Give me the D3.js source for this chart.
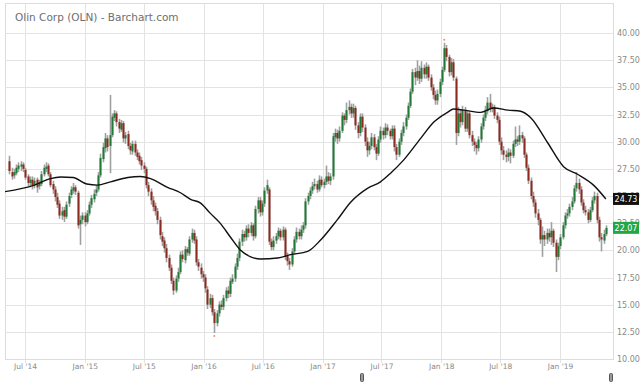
<!DOCTYPE html>
<html>
<head>
<meta charset="utf-8">
<script src="https://cdn.jsdelivr.net/npm/d3@7"></script>
<style>
  html, body { margin: 0; padding: 0; background: #fff; }
  svg { display: block; font-family: "DejaVu Sans", sans-serif; }
</style>
</head>
<body>
<div id="chart"></div>
<script>
'use strict';

/* Weekly OLN candles, first week starting 12 May 2014 */
const weekStart = '2014-05-12';

const opens = [
  28.2, 27.2, 26.9, 27.1, 27.5, 27.7, 27.9, 27.4, 26.8, 26.2,
  26.5, 26.0, 26.5, 25.9, 26.1, 27.0, 27.5, 27.8, 27.0, 26.1,
  25.6, 24.9, 24.3, 23.2, 23.7, 23.1, 24.3, 25.1, 25.5, 25.8,
  25.3, 22.4, 22.8, 23.2, 22.6, 23.4, 24.2, 24.7, 25.3, 25.6,
  26.9, 28.4, 29.4, 30.3, 29.6, 30.6, 32.2, 32.6, 31.8, 31.1,
  31.7, 30.3, 30.7, 29.6, 29.1, 29.8, 29.0, 28.7, 28.3, 27.8,
  27.5, 26.0, 25.4, 24.6, 24.1, 23.6, 22.8, 21.3, 20.9, 20.2,
  19.3, 18.4, 17.2, 16.3, 17.4, 18.0, 19.6, 19.1, 20.1, 19.7,
  21.0, 21.6, 21.0, 18.9, 18.4, 17.8, 17.5, 16.4, 15.0, 15.6,
  14.3, 13.3, 14.2, 15.0, 14.8, 15.6, 16.3, 16.0, 17.1, 17.4,
  18.5, 19.3, 20.8, 21.5, 21.2, 22.0, 21.6, 22.3, 21.3, 23.8,
  24.6, 23.5, 24.3, 25.5, 25.6, 20.8, 20.3, 20.9, 21.3, 21.8,
  21.2, 21.9, 19.5, 19.0, 18.7, 19.9, 21.0, 21.7, 21.3, 21.9,
  22.3, 24.5, 25.0, 25.5, 25.9, 26.1, 25.6, 26.5, 26.0, 26.3,
  26.8, 26.4, 26.8, 30.4, 30.8, 30.3, 31.0, 32.4, 32.0, 32.9,
  33.2, 32.6, 33.1, 31.5, 30.8, 32.3, 31.3, 30.0, 29.2, 29.6,
  30.4, 29.5, 28.9, 30.2, 31.0, 30.6, 31.3, 31.0, 30.5, 31.2,
  29.5, 28.8, 30.0, 30.8, 31.4, 32.2, 33.3, 34.6, 36.4, 35.9,
  36.5, 35.8, 36.8, 36.2, 36.9, 35.9, 35.0, 34.3, 33.8, 34.4,
  35.5, 36.6, 38.6, 37.8, 36.4, 37.3, 35.8, 30.8, 32.6, 31.8,
  32.9, 31.2, 32.6, 30.6, 30.0, 29.7, 29.4, 30.2, 31.4, 32.2,
  32.8, 33.6, 33.0, 33.2, 32.4, 32.0, 30.0, 29.2, 28.8, 28.6,
  29.0, 28.7, 29.8, 30.2, 30.0, 30.6, 30.3, 28.8, 27.6, 26.4,
  25.0, 24.4, 23.4, 22.8, 21.0, 21.4, 21.0, 21.6, 21.2, 21.8,
  20.7, 19.4, 20.4, 21.2, 22.3, 23.2, 23.4, 24.0, 24.5, 25.7,
  26.2, 25.6, 24.4, 23.7, 23.5, 22.8, 23.7, 24.6, 25.0, 22.8,
  21.2, 20.9, 21.5
];
const highs = [
  28.7, 27.6, 27.5, 27.9, 28.1, 28.2, 28.1, 27.6, 27.0, 26.8,
  26.8, 26.7, 26.7, 26.5, 27.3, 27.9, 28.1, 28.0, 27.2, 26.4,
  25.9, 25.3, 24.6, 24.0, 24.0, 24.5, 25.3, 25.9, 26.2, 26.0,
  25.5, 23.2, 23.5, 23.5, 23.7, 24.5, 25.1, 25.6, 26.0, 27.2,
  28.9, 29.9, 30.8, 30.6, 34.3, 32.6, 32.9, 32.8, 32.1, 32.0,
  31.9, 30.9, 31.0, 29.9, 30.1, 30.1, 29.3, 29.0, 28.6, 28.1,
  27.7, 26.3, 25.7, 25.0, 24.4, 23.9, 23.1, 21.7, 21.2, 20.6,
  19.6, 18.7, 17.5, 17.7, 18.4, 19.9, 20.0, 20.4, 20.3, 21.3,
  22.0, 21.9, 21.3, 19.2, 18.8, 18.1, 17.8, 16.7, 16.0, 15.9,
  14.6, 14.5, 15.3, 15.4, 15.9, 16.6, 16.7, 17.5, 17.8, 18.8,
  19.7, 21.1, 21.9, 21.8, 22.3, 22.4, 22.6, 22.5, 24.1, 24.9,
  24.9, 24.6, 25.8, 26.5, 25.8, 21.1, 21.3, 21.6, 22.1, 22.0,
  22.2, 22.1, 19.8, 19.3, 20.2, 21.3, 22.1, 22.0, 22.3, 22.6,
  24.8, 25.3, 25.8, 26.3, 26.6, 26.4, 26.9, 26.8, 26.6, 27.8,
  27.2, 27.1, 30.8, 31.2, 31.1, 31.4, 32.7, 32.6, 33.6, 33.8,
  33.5, 33.5, 33.3, 31.8, 32.6, 32.6, 31.6, 30.4, 30.0, 30.8,
  30.7, 29.8, 30.5, 31.4, 31.3, 31.7, 31.6, 31.2, 31.5, 31.5,
  29.8, 30.3, 31.1, 31.8, 32.5, 33.6, 34.9, 36.7, 36.8, 37.5,
  37.0, 37.4, 37.1, 37.3, 37.1, 36.2, 35.3, 34.7, 34.8, 35.8,
  36.9, 39.1, 38.9, 38.0, 37.7, 37.6, 36.0, 33.2, 33.0, 33.3,
  33.2, 32.9, 32.8, 31.0, 30.3, 30.0, 30.5, 31.7, 32.5, 33.3,
  34.1, 34.4, 33.5, 33.4, 32.7, 32.3, 30.4, 29.6, 29.2, 29.4,
  29.3, 30.1, 31.4, 30.5, 31.5, 30.9, 30.5, 29.0, 27.9, 26.7,
  25.4, 24.7, 23.8, 23.0, 22.2, 21.8, 22.0, 22.0, 22.6, 22.0,
  21.0, 20.7, 21.5, 22.6, 23.5, 23.8, 24.3, 24.9, 26.0, 27.2,
  26.6, 25.9, 24.7, 24.1, 23.8, 24.0, 24.9, 25.4, 25.3, 23.1,
  21.6, 21.9, 22.3
];
const lows = [
  27.0, 26.5, 26.6, 26.9, 27.2, 27.3, 27.2, 26.5, 25.9, 25.9,
  25.6, 25.7, 25.3, 25.6, 25.9, 26.8, 27.2, 26.8, 25.8, 25.2,
  24.5, 23.9, 22.9, 22.8, 22.6, 22.9, 24.0, 24.8, 25.2, 25.1,
  22.0, 20.5, 22.4, 22.2, 22.4, 23.2, 23.9, 24.4, 25.0, 25.4,
  26.7, 28.1, 29.0, 29.1, 27.1, 30.4, 31.9, 31.4, 30.8, 30.9,
  29.9, 29.8, 29.3, 28.8, 28.8, 28.7, 28.3, 27.9, 27.4, 27.1,
  25.7, 25.0, 24.2, 23.6, 23.2, 22.4, 21.0, 20.4, 19.8, 18.9,
  18.1, 16.9, 15.9, 16.1, 17.1, 17.8, 18.9, 18.8, 19.5, 19.5,
  20.7, 20.6, 18.6, 18.1, 17.4, 17.1, 16.1, 14.6, 14.7, 14.0,
  12.4, 13.0, 13.9, 14.5, 14.5, 15.3, 15.6, 15.7, 16.9, 17.1,
  18.2, 19.0, 20.4, 20.8, 20.9, 21.2, 21.3, 20.9, 21.1, 23.4,
  23.1, 23.2, 24.0, 25.2, 20.5, 20.0, 20.0, 20.6, 21.0, 20.9,
  20.9, 19.1, 18.6, 18.2, 18.5, 19.6, 20.7, 21.0, 21.0, 21.6,
  22.0, 24.2, 24.7, 25.2, 25.6, 25.3, 25.4, 25.8, 25.7, 26.0,
  26.1, 26.0, 26.5, 30.0, 29.8, 30.0, 30.8, 31.5, 31.7, 32.5,
  32.2, 32.2, 31.1, 30.3, 30.5, 30.9, 29.6, 28.6, 28.8, 29.3,
  29.2, 28.3, 28.7, 29.9, 30.2, 30.3, 30.6, 30.2, 30.2, 29.1,
  28.3, 28.6, 29.7, 30.5, 31.1, 32.0, 33.1, 34.4, 35.2, 35.6,
  35.3, 35.5, 35.8, 35.8, 35.6, 34.7, 33.9, 33.4, 33.4, 34.1,
  35.2, 36.4, 37.4, 36.0, 36.1, 35.6, 29.7, 30.5, 31.3, 31.5,
  30.9, 30.9, 30.3, 29.6, 29.1, 28.8, 29.1, 29.9, 31.1, 31.9,
  32.5, 32.7, 32.7, 32.1, 31.7, 29.7, 28.8, 28.3, 28.1, 28.2,
  28.0, 28.5, 29.5, 29.6, 29.7, 29.9, 28.5, 27.3, 26.1, 24.7,
  24.0, 23.0, 22.3, 20.6, 19.4, 20.4, 20.6, 20.8, 20.5, 20.3,
  18.0, 19.1, 20.1, 21.0, 22.0, 22.9, 23.1, 23.7, 24.3, 25.4,
  25.2, 24.1, 23.4, 23.2, 22.5, 22.6, 23.5, 24.3, 22.5, 20.8,
  19.9, 20.6, 21.3
];
const closes = [
  27.3, 26.8, 27.2, 27.6, 27.8, 27.9, 27.5, 26.7, 26.2, 26.5,
  26.0, 26.4, 25.8, 26.2, 27.0, 27.6, 27.7, 27.0, 26.0, 25.6,
  24.9, 24.2, 23.2, 23.6, 23.1, 24.2, 25.0, 25.6, 25.8, 25.4,
  22.3, 22.8, 23.2, 22.6, 23.4, 24.2, 24.8, 25.2, 25.6, 26.9,
  28.5, 29.5, 30.3, 29.5, 30.6, 32.3, 32.6, 31.8, 31.2, 31.7,
  30.3, 30.6, 29.6, 29.2, 29.8, 29.0, 28.6, 28.2, 27.8, 27.5,
  26.0, 25.4, 24.6, 24.0, 23.6, 22.8, 21.4, 20.8, 20.2, 19.3,
  18.4, 17.2, 16.3, 17.4, 18.0, 19.6, 19.2, 20.1, 19.8, 21.0,
  21.6, 20.9, 18.9, 18.5, 17.8, 17.5, 16.5, 15.0, 15.6, 14.3,
  13.3, 14.2, 15.0, 14.8, 15.6, 16.3, 16.0, 17.2, 17.4, 18.5,
  19.3, 20.8, 21.5, 21.2, 22.0, 21.6, 22.3, 21.3, 23.8, 24.6,
  23.5, 24.3, 25.5, 26.0, 20.8, 20.3, 20.9, 21.3, 21.8, 21.2,
  21.9, 19.4, 19.0, 18.7, 19.9, 21.0, 21.7, 21.3, 21.9, 22.3,
  24.5, 25.0, 25.5, 25.9, 26.1, 25.6, 26.5, 26.0, 26.3, 26.8,
  26.4, 26.8, 30.5, 30.8, 30.3, 31.0, 32.4, 32.0, 32.9, 33.2,
  32.6, 33.1, 31.5, 30.8, 32.3, 31.3, 30.0, 29.2, 29.6, 30.4,
  29.5, 28.9, 30.2, 31.0, 30.6, 31.3, 31.0, 30.5, 31.2, 29.5,
  28.8, 30.0, 30.8, 31.4, 32.2, 33.3, 34.6, 36.4, 35.9, 36.5,
  35.8, 36.8, 36.2, 36.9, 35.9, 35.0, 34.3, 33.8, 34.4, 35.5,
  36.6, 38.6, 37.8, 36.4, 37.3, 35.9, 30.8, 32.6, 31.8, 32.9,
  31.2, 32.6, 30.6, 30.0, 29.7, 29.4, 30.2, 31.4, 32.2, 32.8,
  33.6, 33.0, 33.2, 32.4, 32.0, 30.0, 29.2, 28.8, 28.6, 29.0,
  28.7, 29.8, 30.2, 30.0, 30.6, 30.3, 28.8, 27.6, 26.4, 25.0,
  24.4, 23.4, 22.8, 21.0, 21.4, 21.0, 21.6, 21.2, 21.8, 20.7,
  19.4, 20.4, 21.2, 22.3, 23.2, 23.4, 24.0, 24.5, 25.7, 26.2,
  25.6, 24.4, 23.7, 23.5, 22.8, 23.7, 24.6, 25.0, 22.8, 21.2,
  21.0, 21.5, 22.07
];

/* 50-week moving average (week index, value) */
const maWeeks  = [-2, 11, 18, 22.5, 28, 34, 38.8, 44.5, 52, 57.7, 62, 69.5, 75.2, 79.6, 84, 88.4,
  92.6, 97.2, 101.6, 106, 110.4, 117.9, 123.6, 131, 136.8, 144, 150, 157.4, 163, 167.5, 173.2,
  181, 186.5, 192.5, 195.2, 199.6, 207, 212.8, 219, 224.6, 229, 236.5, 243.5, 249.7, 256.7, 262];
const maValues = [25.4, 26.0, 26.6, 26.75, 26.7, 26.1, 26.0, 26.3, 26.7, 26.8, 26.6, 25.8, 25.3, 24.7, 24.35, 23.4,
  22.5, 21.2, 20.0, 19.4, 19.2, 19.3, 19.6, 19.9, 20.95, 22.8, 24.45, 25.7, 26.3, 27.1, 28.3,
  30.4, 31.8, 32.7, 33.0, 32.9, 32.7, 33.1, 32.9, 32.8, 32.2, 29.9, 27.7, 27.0, 26.0, 24.73];

const priceTicks = [10, 12.5, 15, 17.5, 20, 22.5, 25, 27.5, 30, 32.5, 35, 37.5, 40];
const dateTicks = ['2014-07-01', '2015-01-01', '2015-07-01', '2016-01-01', '2016-07-01',
  '2017-01-01', '2017-07-01', '2018-01-01', '2018-07-01', '2019-01-01'];

const title = 'Olin Corp (OLN) - Barchart.com';
const lastMA = 24.73;
const lastClose = 22.07;

/* ---- layout ---- */
const W = 640, H = 387;
const plot = { left: 5, right: 613, top: 3, bottom: 359 };

const svg = d3.select('#chart').append('svg').attr('width', W).attr('height', H);

const parse = d3.utcParse('%Y-%m-%d');
const week0 = parse(weekStart);
const weekDate = i => d3.utcDay.offset(week0, i * 7 + 2);

const x = d3.scaleUtc().domain([parse('2014-07-01'), parse('2019-01-01')]).range([25, 560]);
const y = d3.scaleLinear().domain([10, 40]).range([plot.bottom, 33]);

/* grid */
const grid = svg.append('g');
grid.selectAll('line.h').data(priceTicks).join('line')
  .attr('x1', plot.left).attr('x2', plot.right)
  .attr('y1', d => Math.round(y(d)) + 0.5).attr('y2', d => Math.round(y(d)) + 0.5)
  .attr('stroke', '#e3e3e3');
grid.selectAll('line.v').data(dateTicks.map(parse)).join('line')
  .attr('x1', d => Math.round(x(d)) + 0.5).attr('x2', d => Math.round(x(d)) + 0.5)
  .attr('y1', plot.top).attr('y2', plot.bottom + 4)
  .attr('stroke', '#e3e3e3');

/* frame */
svg.append('rect')
  .attr('x', plot.left + 0.5).attr('y', plot.top + 0.5)
  .attr('width', plot.right - plot.left).attr('height', plot.bottom - plot.top)
  .attr('fill', 'none').attr('stroke', '#dcdcdc');

/* title */
svg.append('text').attr('x', 15).attr('y', 21)
  .attr('font-size', 10.5).attr('fill', '#6e6e6e').text(title);

/* axes */
const yAxis = d3.axisRight(y).tickValues(priceTicks).tickSize(0).tickPadding(4)
  .tickFormat(d3.format('.2f'));
svg.append('g').attr('transform', `translate(${plot.right},0)`).call(yAxis)
  .call(g => g.select('.domain').remove())
  .call(g => g.selectAll('text').attr('font-size', 8).attr('fill', '#8a8a8a')
    .attr('font-family', '"DejaVu Sans", sans-serif'));

const xAxis = d3.axisBottom(x).tickValues(dateTicks.map(parse))
  .tickSize(0).tickPadding(5).tickFormat(d3.utcFormat("%b '%y"));
svg.append('g').attr('transform', `translate(0,${plot.bottom})`).call(xAxis)
  .call(g => g.select('.domain').remove())
  .call(g => g.selectAll('text').attr('font-size', 7.5).attr('fill', '#8a8a8a')
    .attr('font-family', '"DejaVu Sans", sans-serif'));

/* candles */
const candles = d3.range(closes.length).map(i => ({
  date: weekDate(i), o: opens[i], h: highs[i], l: lows[i], c: closes[i]
}));

const cg = svg.append('g');
cg.selectAll('line.wick').data(candles).join('line')
  .attr('x1', d => Math.round(x(d.date)) + 0.5).attr('x2', d => Math.round(x(d.date)) + 0.5)
  .attr('y1', d => y(d.h)).attr('y2', d => y(d.l))
  .attr('stroke', '#a0a0a0').attr('stroke-width', 1.6);
cg.selectAll('rect.body').data(candles).join('rect')
  .attr('x', d => Math.round(x(d.date)) - 0.5)
  .attr('width', 2)
  .attr('y', d => y(Math.max(d.o, d.c)))
  .attr('height', d => Math.max(1, Math.abs(y(d.o) - y(d.c))))
  .attr('fill', d => d.c >= d.o ? '#1f7a36' : '#8b2b1f');

/* extreme markers */
const hiIdx = d3.maxIndex(highs), loIdx = d3.minIndex(lows);
svg.append('circle').attr('cx', x(weekDate(hiIdx))).attr('cy', y(highs[hiIdx]) - 3)
  .attr('r', 1).attr('fill', '#f08a7a');
svg.append('circle').attr('cx', x(weekDate(loIdx))).attr('cy', y(lows[loIdx]) + 3)
  .attr('r', 1).attr('fill', '#f08a7a');

/* moving average */
const maData = maWeeks.map((w, i) => ({ date: weekDate(w), v: maValues[i] }));
svg.append('defs').append('clipPath').attr('id', 'plotClip').append('rect')
  .attr('x', plot.left).attr('y', plot.top)
  .attr('width', plot.right - plot.left).attr('height', plot.bottom - plot.top);
svg.append('path').datum(maData)
  .attr('clip-path', 'url(#plotClip)')
  .attr('fill', 'none').attr('stroke', '#111').attr('stroke-width', 1.4)
  .attr('d', d3.line().x(d => x(d.date)).y(d => y(d.v)).curve(d3.curveMonotoneX));

/* last value tags */
function tag(v, fill) {
  const g = svg.append('g').attr('transform', `translate(${plot.right},${y(v)})`);
  g.append('rect').attr('x', 0).attr('y', -6).attr('width', 26).attr('height', 12).attr('fill', fill);
  g.append('text').attr('x', 13).attr('y', 3).attr('text-anchor', 'middle')
    .attr('font-size', 8).attr('fill', '#fff').text(d3.format('.2f')(v));
}
tag(lastMA, '#111');
tag(lastClose, '#20a846');

/* scroll handles */
[360, 609].forEach(hx => {
  svg.append('rect').attr('x', hx + 0.5).attr('y', 373.5).attr('width', 3).attr('height', 8)
    .attr('rx', 1).attr('fill', '#9a9a9a').attr('stroke', '#555').attr('stroke-width', 1);
});
</script>
</body>
</html>
